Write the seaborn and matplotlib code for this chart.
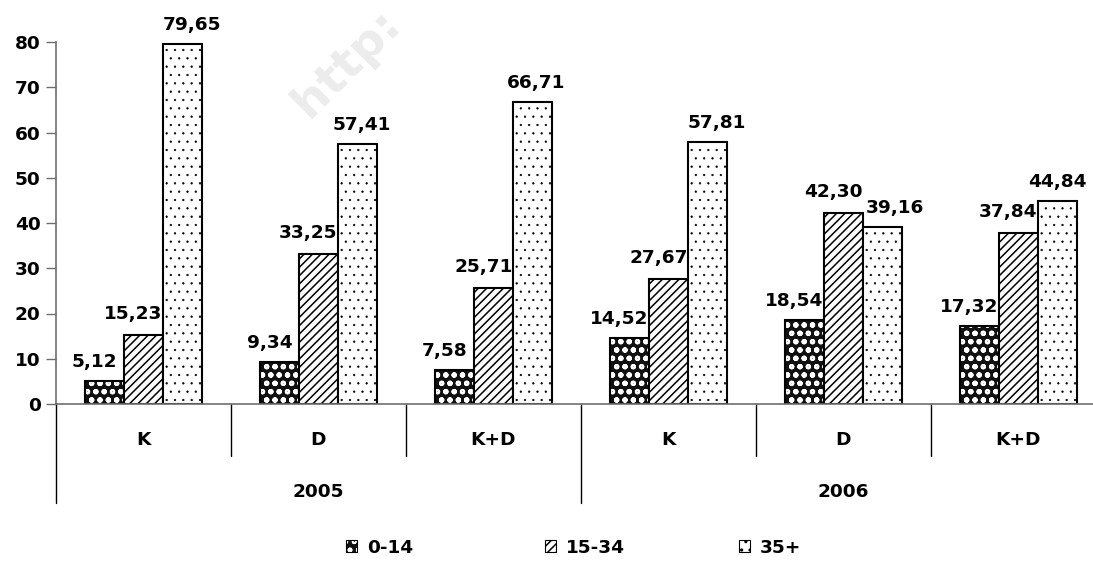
import matplotlib
matplotlib.use("Agg")
import matplotlib.pyplot as plt
import matplotlib.transforms as mtransforms
from matplotlib.patches import Patch
import pandas as pd
import seaborn as sns

# ---- data ----
years = ["2005", "2006"]
groups = ["K", "D", "K+D"]
age_bands = ["0-14", "15-34", "35+"]
vals_0_14 = [5.12, 9.34, 7.58, 14.52, 18.54, 17.32]
vals_15_34 = [15.23, 33.25, 25.71, 27.67, 42.30, 37.84]
vals_35_plus = [79.65, 57.41, 66.71, 57.81, 39.16, 44.84]
y_ticks = [0, 10, 20, 30, 40, 50, 60, 70, 80]

series = [vals_0_14, vals_15_34, vals_35_plus]
keys = [f"{y} {g}" for y in years for g in groups]
rows = []
for band, vals in zip(age_bands, series):
    for k, v in zip(keys, vals):
        rows.append({"grp": k, "band": band, "value": v})
df = pd.DataFrame(rows)

sns.set_style("white")
plt.rcParams["font.family"] = ["DejaVu Sans"]
plt.rcParams["font.weight"] = "bold"
plt.rcParams["text.color"] = "black"
plt.rcParams["ytick.color"] = "black"
plt.rcParams["xtick.color"] = "black"
plt.rcParams["hatch.linewidth"] = 1.1

FS = 13.3
AX_COLOR = "#6e6e6e"

fig = plt.figure(figsize=(10.93, 5.61), dpi=100)
ax = fig.add_axes([56 / 1093, 157 / 561, 1037 / 1093, 362 / 561])

sns.barplot(data=df, x="grp", y="value", hue="band", order=keys,
            hue_order=age_bands, palette=["white"] * 3, width=0.67, gap=0,
            edgecolor="black", linewidth=1.5, legend=False, ax=ax, zorder=2)

# fill styles per age band: (face, hatch, hatch colour, hatch width)
styles = [("#111111", "oo", "white", 1.5),
          ("white", "////", "black", 1.1),
          ("white", "..", "black", 0.4)]


def style_patch(p, face, hatch, hcol, hlw):
    p.set_facecolor(face)
    p.set_edgecolor("black")
    p.set_hatch(hatch)
    if hasattr(p, "set_hatchcolor"):
        p.set_hatchcolor(hcol)
    else:
        p._hatch_color = matplotlib.colors.to_rgba(hcol)
    if hasattr(p, "set_hatch_linewidth"):
        p.set_hatch_linewidth(hlw)
    else:
        p._hatch_linewidth = hlw


# horizontal label nudges (pixels) so neighbouring labels do not collide
label_dx = [[-10] * 6,
            [-10] * 6,
            [9, 4, 4, 9, 12, 0]]
label_dy = [14, 16, 14]
for ci, cont in enumerate(ax.containers):
    for bi, (p, v) in enumerate(zip(cont.patches, series[ci])):
        style_patch(p, *styles[ci])
        cx = p.get_x() + p.get_width() / 2
        off = mtransforms.offset_copy(ax.transData, fig=fig,
                                      x=label_dx[ci][bi], y=label_dy[ci],
                                      units="dots")
        ax.text(cx, v, f"{v:.2f}".replace(".", ","), transform=off,
                ha="center", va="baseline", fontsize=FS, fontweight="bold")

# axes
ax.set_ylim(0, 80)
ax.set_xlim(-0.5, 5.426)
ax.set_yticks(y_ticks)
ax.set_yticklabels([str(t) for t in y_ticks], fontsize=FS, fontweight="bold")
ax.tick_params(axis="y", left=True, length=7, width=1, color=AX_COLOR,
               labelcolor="black", pad=4, direction="out")
ax.set_xticks([])
ax.set_xlabel("")
ax.set_ylabel("")
for s in ["top", "right"]:
    ax.spines[s].set_visible(False)
ax.spines["left"].set_color(AX_COLOR)
ax.spines["bottom"].set_color(AX_COLOR)
ax.spines["left"].set_linewidth(1.2)
ax.spines["bottom"].set_linewidth(1.2)

# two-level category axis
trans = mtransforms.blended_transform_factory(ax.transData, ax.transAxes)
for i in range(len(keys) + 1):
    xb = i - 0.5
    long_line = (i % len(groups) == 0)
    y_end = -0.2735 if long_line else -0.1436
    ax.plot([xb, xb], [0, y_end], transform=trans, color="black",
            lw=1.0, clip_on=False)
for i, k in enumerate(keys):
    ax.text(i, -0.0994, groups[i % len(groups)], transform=trans,
            ha="center", va="center", fontsize=FS, fontweight="bold")
for j, yr in enumerate(years):
    xc = j * len(groups) + (len(groups) - 1) / 2
    ax.text(xc, -0.243, yr, transform=trans, ha="center", va="center",
            fontsize=FS, fontweight="bold")

# legend: one entry per band, spread along the bottom
legend_x = [346 / 1093, 545 / 1093, 739 / 1093]
for (face, hatch, hcol, hlw), band, lx in zip(styles, age_bands, legend_x):
    h = Patch(facecolor=face, edgecolor="black", hatch=hatch, label=band)
    style_patch(h, face, hatch, hcol, hlw)
    h.set_linewidth(0.8)
    leg = fig.legend(handles=[h], loc="center left",
                     bbox_to_anchor=(lx, 0.024), frameon=False,
                     handlelength=0.6, handleheight=0.6, handletextpad=0.55,
                     borderpad=0, borderaxespad=0,
                     prop={"weight": "bold", "size": FS})

# faint site mark
fig.text(300 / 1093, 1 - 110 / 561, "http:", rotation=45,
         rotation_mode="anchor", ha="left", va="center", fontsize=34,
         fontweight="bold", color="#ececec", zorder=0)

fig.savefig("out.png", dpi=100)
